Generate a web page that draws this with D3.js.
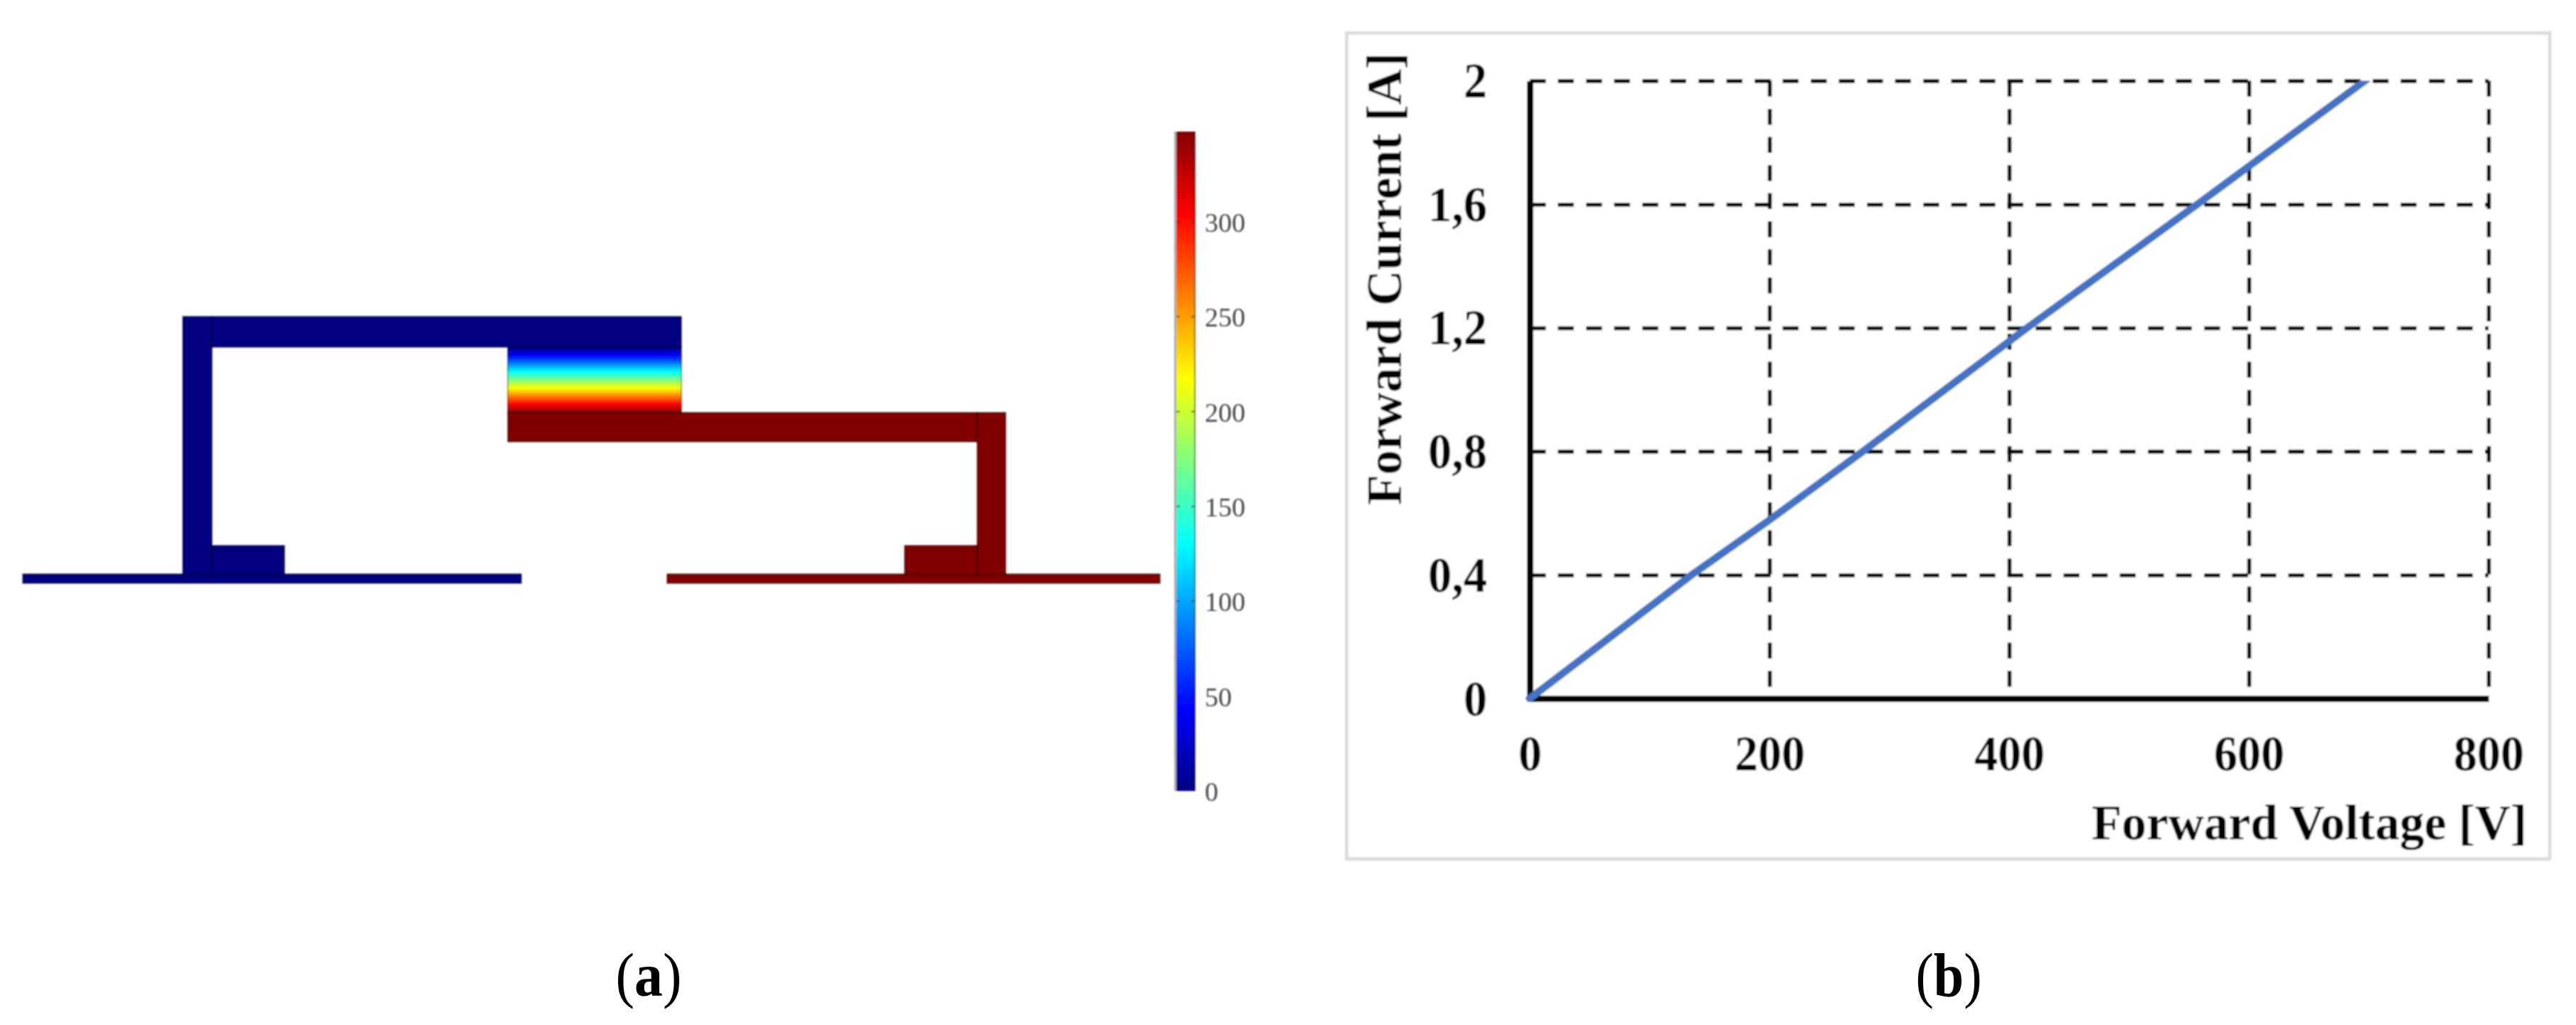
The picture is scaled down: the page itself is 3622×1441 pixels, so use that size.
<!DOCTYPE html>
<html>
<head>
<meta charset="utf-8">
<script src="https://cdn.jsdelivr.net/npm/d3@7/dist/d3.min.js"></script>
<style>
html,body{margin:0;padding:0;background:#fff;overflow:hidden}
svg{display:block}
text{font-family:"Liberation Serif",serif}
</style>
</head>
<body>
<svg id="fig" width="3622" height="1441"></svg>
<script>
// ---- Panel (b): forward characteristic ----
const voltage = [0, 135, 200, 278, 415, 557, 697];
const current = [0, 0.4, 0.578, 0.8, 1.2, 1.6, 2];
const xTicks = [0, 200, 400, 600, 800];
const yTicks = [0, 0.4, 0.8, 1.2, 1.6, 2];
const xTitle = "Forward Voltage [V]";
const yTitle = "Forward Current [A]";

// ---- Panel (a): device cross-section (model units) and potential ----
const regionNames = ["leftPlate","rightPlate","leftStem","leftFoot","topBar","bottomBar","rightStem","rightFoot"];
const regionX0 = [0, 90.6, 22.5, 26.6, 26.6, 68.2, 134.2, 124];
const regionX1 = [70.1, 159.9, 26.6, 36.8, 92.6, 134.2, 138.2, 134.2];
const regionY0 = [0, 0, 1.2, 1.2, 33.2, 19.9, 1.2, 1.2];
const regionY1 = [1.3, 1.3, 37.5, 5.3, 37.5, 24, 24, 5.3];
const regionV = [0, 347.6, 0, 0, 0, 347.6, 347.6, 347.6];
const gapX = [68.2, 92.6], gapY = [24, 33.2];
const jetStops = [0, 0.125, 0.375, 0.625, 0.875, 1];
const jetColors = ["#000080", "#0000ff", "#00ffff", "#ffff00", "#ff0000", "#800000"];
const barTicks = [0, 50, 100, 150, 200, 250, 300];
const barMax = 347.6;
const panelLabels = ["a", "b"];

const svg = d3.select("#fig");
const defs = svg.append("defs");
defs.append("filter").attr("id","soft").attr("x","-2%").attr("y","-2%").attr("width","104%").attr("height","104%")
  .append("feGaussianBlur").attr("stdDeviation",0.8);

svg.append("rect").attr("width",3622).attr("height",1441).attr("fill","#fff");

// jet colour map
const jet = d3.scaleLinear().domain(jetStops).range(jetColors);
const gapGrad = defs.append("linearGradient").attr("id","gapGrad").attr("x1",0).attr("x2",0).attr("y1",0).attr("y2",1);
jetStops.forEach((s,i)=>gapGrad.append("stop").attr("offset",s).attr("stop-color",jetColors[i]));
const barGrad = defs.append("linearGradient").attr("id","barGrad").attr("x1",0).attr("x2",0).attr("y1",1).attr("y2",0);
jetStops.forEach((s,i)=>barGrad.append("stop").attr("offset",s).attr("stop-color",jetColors[i]));

// ---- Panel (a) ----
const a = svg.append("g").attr("filter","url(#soft)");
const mx = d3.scaleLinear().domain([0,160]).range([32,1632]);
const my = d3.scaleLinear().domain([0,37.5]).range([820,445]);

a.selectAll("rect.region").data(regionNames).join("rect").attr("class","region")
  .attr("x",(d,i)=>mx(regionX0[i]))
  .attr("y",(d,i)=>my(regionY1[i]))
  .attr("width",(d,i)=>mx(regionX1[i])-mx(regionX0[i]))
  .attr("height",(d,i)=>my(regionY0[i])-my(regionY1[i]))
  .attr("fill",(d,i)=>jet(regionV[i]/barMax))
  .attr("stroke","#000").attr("stroke-opacity",0.55).attr("stroke-width",1.6);

a.append("rect")
  .attr("x",mx(gapX[0])).attr("y",my(gapY[1]))
  .attr("width",mx(gapX[1])-mx(gapX[0])).attr("height",my(gapY[0])-my(gapY[1]))
  .attr("fill","url(#gapGrad)")
  .attr("stroke","#000").attr("stroke-opacity",0.5).attr("stroke-width",1.6);

// colour bar
const cb = d3.scaleLinear().domain([0,barMax]).range([1112,185]);
const cbL = 1654, cbR = 1680;
a.append("rect").attr("x",cbL-3).attr("y",cb(barMax)).attr("width",3).attr("height",cb(0)-cb(barMax)).attr("fill","#aaa");
a.append("rect").attr("x",cbL).attr("y",cb(barMax)).attr("width",cbR-cbL).attr("height",cb(0)-cb(barMax))
  .attr("fill","url(#barGrad)");
a.append("line").attr("x1",cbR).attr("x2",cbR).attr("y1",cb(barMax)).attr("y2",cb(0)).attr("stroke","#000").attr("stroke-opacity",.7).attr("stroke-width",1.6);
const cbTick = a.selectAll("g.cbt").data(barTicks).join("g").attr("class","cbt").attr("transform",d=>`translate(0,${cb(d)})`);
cbTick.filter(d=>d>0).append("line").attr("x1",cbL).attr("x2",cbL+5).attr("stroke","#222").attr("stroke-width",1.6);
cbTick.filter(d=>d>0).append("line").attr("x1",cbR-5).attr("x2",cbR).attr("stroke","#222").attr("stroke-width",1.6);
cbTick.append("text").text(d=>d).attr("x",1694).attr("y",14)
  .attr("font-size",38).attr("fill","#444");

// ---- Panel (b) ----
const b = svg.append("g").attr("filter","url(#soft)");
b.append("rect").attr("x",1893.5).attr("y",46.5).attr("width",1691.5).attr("height",1161)
  .attr("fill","#fff").attr("stroke","#d9d9d9").attr("stroke-width",4.5);

const x = d3.scaleLinear().domain([0,800]).range([2151,3499]);
const y = d3.scaleLinear().domain([0,2]).range([982,113.5]);
const w = x.range()[1]-x.range()[0], h = y.range()[0]-y.range()[1];
const fs = 69;
const tickWidth = s => String(s).replace(/[,.]/g,"").length*33 + (/[,.]/.test(String(s))?17:0);

const gy = b.append("g").attr("transform",`translate(${x(0)},0)`)
  .call(d3.axisLeft(y).tickValues(yTicks).tickSize(-w).tickSizeOuter(0).tickPadding(60)
    .tickFormat(d=>String(d).replace(".",",")));
const gx = b.append("g").attr("transform",`translate(0,${y(0)})`)
  .call(d3.axisBottom(x).tickValues(xTicks).tickSize(-h).tickSizeOuter(0).tickPadding(0));

gy.selectAll(".tick line").attr("stroke","#000").attr("stroke-width",5.5).attr("stroke-dasharray","22.5 17");
gx.selectAll(".tick line").attr("y1",-h).attr("y2",0).attr("stroke","#000").attr("stroke-width",5.5).attr("stroke-dasharray","22.5 17");
gy.selectAll(".tick").filter(d=>d===0).select("line").remove();
gx.selectAll(".tick").filter(d=>d===0).select("line").remove();
gy.select(".domain").attr("stroke","#000").attr("stroke-width",9);
gx.select(".domain").attr("stroke","#000").attr("stroke-width",9);
[gx,gy].forEach(g=>g.selectAll("text").style("font-family","'Liberation Serif',serif")
  .attr("font-size",fs).attr("font-weight","bold").attr("fill","#000")
  .attr("textLength",function(){return tickWidth(this.textContent);}).attr("lengthAdjust","spacingAndGlyphs"));
gx.selectAll("text").attr("y",101).attr("dy",0);
gy.selectAll("text").attr("dy",0).attr("y",23);

defs.append("clipPath").attr("id","plotClip").append("rect")
  .attr("x",x(0)-6).attr("y",y(2)).attr("width",w+12).attr("height",h+5);
b.append("path").datum(d3.range(voltage.length))
  .attr("clip-path","url(#plotClip)")
  .attr("d",d3.line().x(i=>x(voltage[i])).y(i=>y(current[i])))
  .attr("fill","none").attr("stroke","#4472c4").attr("stroke-width",10.5).attr("stroke-linecap","square");

b.append("text").text(xTitle).attr("x",3553).attr("y",1180).attr("text-anchor","end")
  .attr("font-size",fs).attr("font-weight","bold").attr("textLength",612).attr("lengthAdjust","spacingAndGlyphs");
b.append("text").text(yTitle)
  .attr("transform","translate(1970,710) rotate(-90)")
  .attr("font-size",fs).attr("font-weight","bold").attr("textLength",636).attr("lengthAdjust","spacingAndGlyphs");

// panel captions
const capX = d3.scalePoint().domain(panelLabels).range([912,2740]);
panelLabels.forEach(l=>{
  const t = svg.append("text").attr("x",capX(l)).attr("y",1400).attr("text-anchor","middle").attr("font-size",86)
    .attr("textLength",93).attr("lengthAdjust","spacingAndGlyphs");
  t.append("tspan").text("(");
  t.append("tspan").text(l).attr("font-weight","bold");
  t.append("tspan").text(")");
});
</script>
</body>
</html>
